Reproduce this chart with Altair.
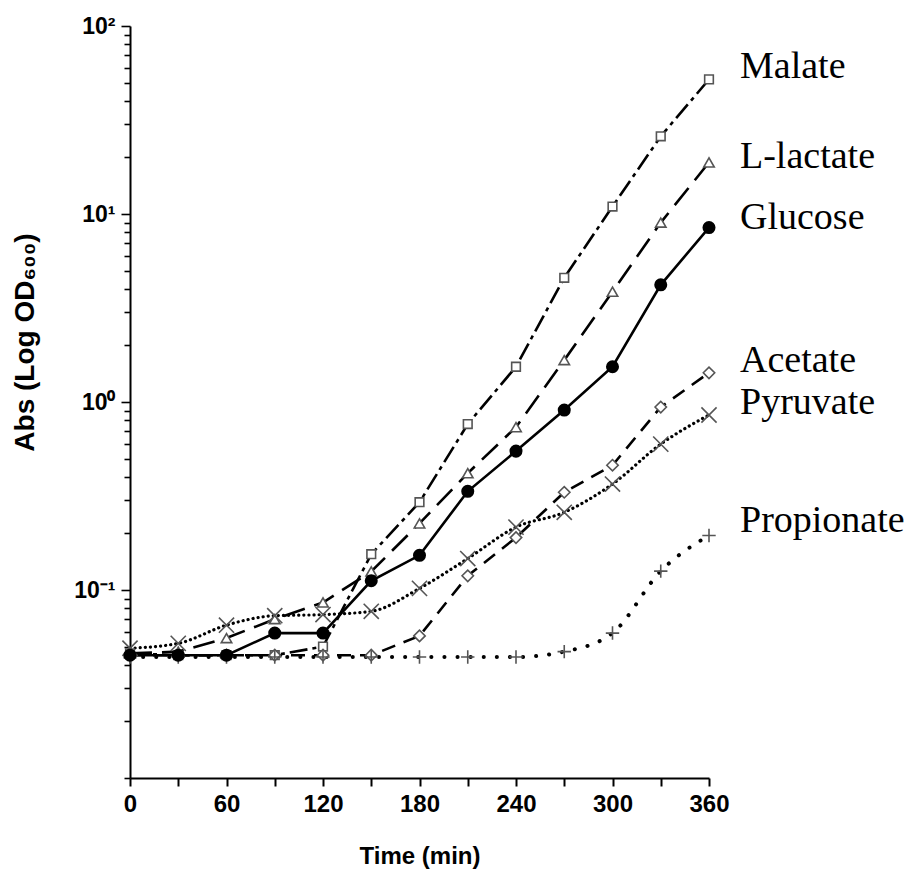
import altair as alt
import pandas as pd

# ---- data ----
time_min = [0, 30, 60, 90, 120, 150, 180, 210, 240, 270, 300, 330, 360]

malate = [0.046, 0.045, 0.045, 0.045, 0.050, 0.155, 0.293, 0.763, 1.54, 4.58, 10.96, 25.9, 52.0]
lactate = [0.046, 0.047, 0.0555, 0.070, 0.0858, 0.1255, 0.226, 0.418, 0.735, 1.67, 3.86, 9.0, 18.8]
glucose = [0.045, 0.045, 0.045, 0.059, 0.059, 0.112, 0.153, 0.335, 0.548, 0.906, 1.54, 4.2, 8.47]
acetate = [0.045, 0.045, 0.045, 0.045, 0.045, 0.045, 0.057, 0.119, 0.19, 0.331, 0.461, 0.94, 1.43]
pyruvate = [0.049, 0.052, 0.065, 0.073, 0.074, 0.077, 0.102, 0.147, 0.216, 0.259, 0.366, 0.597, 0.853]
propionate = [0.044, 0.044, 0.044, 0.044, 0.044, 0.044, 0.044, 0.044, 0.044, 0.047, 0.059, 0.126, 0.195]

series_names = ["Malate", "L-lactate", "Glucose", "Acetate", "Pyruvate", "Propionate"]
series_values = [malate, lactate, glucose, acetate, pyruvate, propionate]

x_ticks = [0, 30, 60, 90, 120, 150, 180, 210, 240, 270, 300, 330, 360]
y_ticks = [round(k * 10 ** e, 6) for e in range(-2, 2) for k in range(1, 10)] + [100.0]

rows = []
for name, vals in zip(series_names, series_values):
    for t, v in zip(time_min, vals):
        rows.append({"series": name, "time": t, "abs": v})
df = pd.DataFrame(rows)

# ---- styles ----
X_PATH = "M-1,-1L1,1M-1,1L1,-1"
PLUS_PATH = "M-1,0L1,0M0,-1L0,1"
styles = {
    "Malate": dict(dash=[18, 5, 4, 5], interp="linear", shape="square", size=75, open=True, dy=-1, cap="butt", sw=2.6),
    "L-lactate": dict(dash=[22, 10], interp="linear", shape="triangle-up", size=110, open=True, dy=6, cap="butt", sw=2.6),
    "Glucose": dict(dash=None, interp="linear", shape="circle", size=170, open=False, dy=1, cap="butt", sw=2.6),
    "Acetate": dict(dash=[14, 9], interp="linear", shape="diamond", size=130, open=True, dy=-1, cap="butt", sw=2.6),
    "Pyruvate": dict(dash=[0.1, 5], interp="monotone", shape=X_PATH, size=230, open=True, dy=-1, cap="round", sw=3.2),
    "Propionate": dict(dash=[0.1, 13], interp="monotone", shape=PLUS_PATH, size=180, open=True, dy=-3, cap="round", sw=4),
}

FONT = "Liberation Sans"

x_enc = alt.X(
    "time:Q",
    scale=alt.Scale(domain=[0, 360], nice=False, zero=False),
    axis=alt.Axis(
        values=x_ticks,
        labelExpr="datum.value % 60 === 0 ? datum.label : ''",
        grid=False,
        domainColor="black",
        domainWidth=2,
        tickColor="black",
        tickWidth=2,
        tickSize=8,
        labelFont=FONT,
        labelFontWeight="bold",
        labelFontSize=24,
        labelColor="black",
        labelPadding=6,
        labelFlush=False,
        title="Time (min)",
        titleFont=FONT,
        titleFontWeight="bold",
        titleFontSize=24,
        titleColor="black",
        titlePadding=28,
    ),
)

y_enc = alt.Y(
    "abs:Q",
    scale=alt.Scale(type="log", domain=[0.01, 100], nice=False),
    axis=alt.Axis(
        values=y_ticks,
        labelExpr=(
            "datum.value == 100 ? '10\u00b2' : datum.value == 10 ? '10\u00b9' : "
            "datum.value == 1 ? '10\u2070' : datum.value == 0.1 ? '10\u207b\u00b9' : ''"
        ),
        grid=False,
        domainColor="black",
        domainWidth=2,
        tickColor="black",
        tickWidth=1.6,
        tickSize={"condition": {"test": "datum.value == 0.1 || datum.value == 1 || datum.value == 10 || datum.value == 100", "value": 9}, "value": 6},
        labelFont=FONT,
        labelFontWeight="bold",
        labelFontSize=23,
        labelColor="black",
        labelPadding=6,
        labelFlush=False,
        labelOverlap=False,
        title="Abs (Log OD\u2086\u2080\u2080)",
        titleFont=FONT,
        titleFontWeight="bold",
        titleFontSize=28,
        titleColor="black",
        titleAngle=-90,
        titleAlign="center",
        titleBaseline="alphabetic",
        titleX=-97,
        titleY=316,
    ),
)

base = alt.Chart(df)

line_layers = []
point_layers = []
text_layers = []
for name in series_names:
    st = styles[name]
    sub = base.transform_filter(alt.datum.series == name)
    line_kwargs = dict(color="black", strokeWidth=st["sw"], interpolate=st["interp"], strokeCap=st["cap"])
    if st["dash"] is not None:
        line_kwargs["strokeDash"] = st["dash"]
    line_layers.append(sub.mark_line(**line_kwargs).encode(x=x_enc, y=y_enc))
    if st["open"]:
        pt = sub.mark_point(shape=st["shape"], size=st["size"], fill="white", stroke="#555555",
                            strokeWidth=1.6, opacity=1, fillOpacity=1 if st["shape"] not in (X_PATH, PLUS_PATH) else 0)
    else:
        pt = sub.mark_point(shape="circle", size=st["size"], filled=True, color="black", opacity=1)
    point_layers.append(pt.encode(x=x_enc, y=y_enc))
    last = sub.transform_filter(alt.datum.time == 360)
    text_layers.append(
        last.mark_text(align="left", baseline="alphabetic", dx=31, dy=st["dy"],
                       font="Liberation Serif", fontSize=38, color="black")
        .encode(x=x_enc, y=y_enc, text="series:N")
    )

# glucose points drawn last so they sit on top
gi = series_names.index("Glucose")
point_layers = [p for i, p in enumerate(point_layers) if i != gi] + [point_layers[gi]]

chart = alt.layer(*line_layers, *point_layers, *text_layers).properties(
    width=579,
    height=752,
    autosize=alt.AutoSizeParams(type="none"),
    padding={"left": 122, "top": 18, "right": 200, "bottom": 98},
    background="white",
).configure_view(strokeOpacity=0)

chart.save("out.html", embed_options={"renderer": "svg", "actions": False})
